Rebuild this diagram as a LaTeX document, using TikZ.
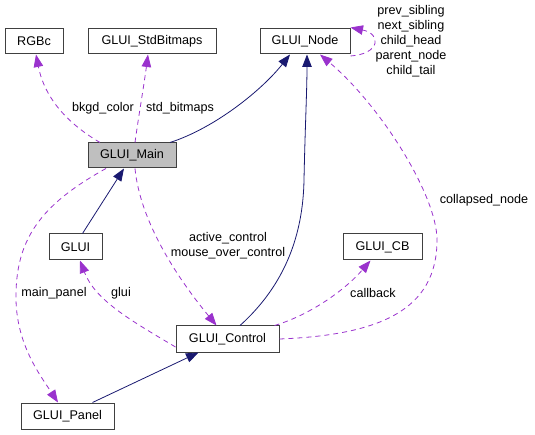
\documentclass[tikz,border=0pt]{standalone}
\usepackage{fontspec}
\setmainfont{Liberation Sans}
\usetikzlibrary{arrows.meta}
\definecolor{edgepurple}{HTML}{9A32CD}
\definecolor{edgenavy}{HTML}{191970}
\definecolor{mainfill}{HTML}{BFBFBF}
\begin{document}
\begin{tikzpicture}[x=1pt,y=-1pt,
  font=\fontsize{12.6}{15}\selectfont,
  cls/.style={draw=black!75, line width=1pt, fill=white, inner sep=0pt, minimum height=25pt},
  inh/.style={draw=edgenavy, line width=0.8pt, -{Triangle[length=12.5pt,width=9.5pt]}},
  use/.style={draw=edgepurple, line width=0.8pt, dash pattern=on 5pt off 4pt, -{Triangle[length=12.5pt,width=9.5pt]}},
  lbl/.style={inner sep=0pt, align=center}]
\useasboundingbox (0,0) rectangle (535,435);
% classes
\node[cls, minimum width=58pt] (rgbc) at (34,41.5) {RGBc};
\node[cls, minimum width=128pt] (bmp) at (152,41.5) {GLUI\_StdBitmaps};
\node[cls, minimum width=90pt] (gnode) at (305,41.5) {GLUI\_Node};
\node[cls, minimum width=88pt, fill=mainfill] (gmain) at (132,155.5) {GLUI\_Main};
\node[cls, minimum width=53pt, minimum height=26pt] (glui) at (75.5,247) {GLUI};
\node[cls, minimum width=103pt, minimum height=26pt] (ctrl) at (227.5,339) {GLUI\_Control};
\node[cls, minimum width=93pt, minimum height=26pt] (panel) at (67.5,416) {GLUI\_Panel};
\node[cls, minimum width=79pt, minimum height=26pt] (cb) at (382.5,247) {GLUI\_CB};
% inheritance
\draw[inh] ([xshift=38pt]gmain.north) .. controls (215,128) and (262,90) .. ([xshift=-15pt]gnode.south);
\draw[inh] ([xshift=12.5pt]ctrl.north) .. controls (285,285) and (303,235) .. (304,180) .. controls (305,130) and (307,90) .. ([xshift=2pt]gnode.south);
\draw[inh] ([xshift=7pt]glui.north) -- ([xshift=-8pt]gmain.south);
\draw[inh] ([xshift=25pt]panel.north) -- ([xshift=-29pt]ctrl.south);
% usage
\draw[use] ([xshift=-32pt]gmain.north) .. controls (70,125) and (45,100) .. ([xshift=2pt]rgbc.south);
\draw[use] ([xshift=3pt]gmain.north) .. controls (138,120) and (144,85) .. ([xshift=-4pt]bmp.south);
\draw[use] ([yshift=-1.5pt]gnode.south east) .. controls (380,54) and (382,34) .. ([yshift=1pt]gnode.north east);
\draw[use] ([xshift=-26pt]gmain.south) .. controls (40,205) and (15,240) .. (16,300) .. controls (17,345) and (40,375) .. ([xshift=-9.5pt]panel.north);
\draw[use] ([xshift=3pt]gmain.south) .. controls (140,220) and (175,275) .. ([xshift=-11pt]ctrl.north);
\draw[use] ([yshift=-8pt]ctrl.west) .. controls (130,320) and (95,300) .. ([xshift=4.5pt]glui.south);
\draw[use] ([xshift=47pt]ctrl.north) .. controls (310,315) and (345,290) .. ([xshift=-12pt]cb.south);
\draw[use] (ctrl.east) .. controls (380,335) and (437,310) .. (437,240) .. controls (437,195) and (380,105) .. ([xshift=15pt]gnode.south);
% labels
\node[lbl] (l1) at (103,108) {bkgd\_color};
\node[lbl] (l2) at (180,108) {std\_bitmaps};
\node[lbl] (l3) at (411,41) {prev\_sibling\\next\_sibling\\child\_head\\parent\_node\\child\_tail};
\node[lbl] (l4) at (54,293) {main\_panel};
\node[lbl] (l5) at (121,293) {glui};
\node[lbl] (l6) at (228,246) {active\_control\\mouse\_over\_control};
\node[lbl] (l7) at (373,293) {callback};
\node[lbl] (l8) at (484,200) {collapsed\_node};
\end{tikzpicture}
\end{document}
